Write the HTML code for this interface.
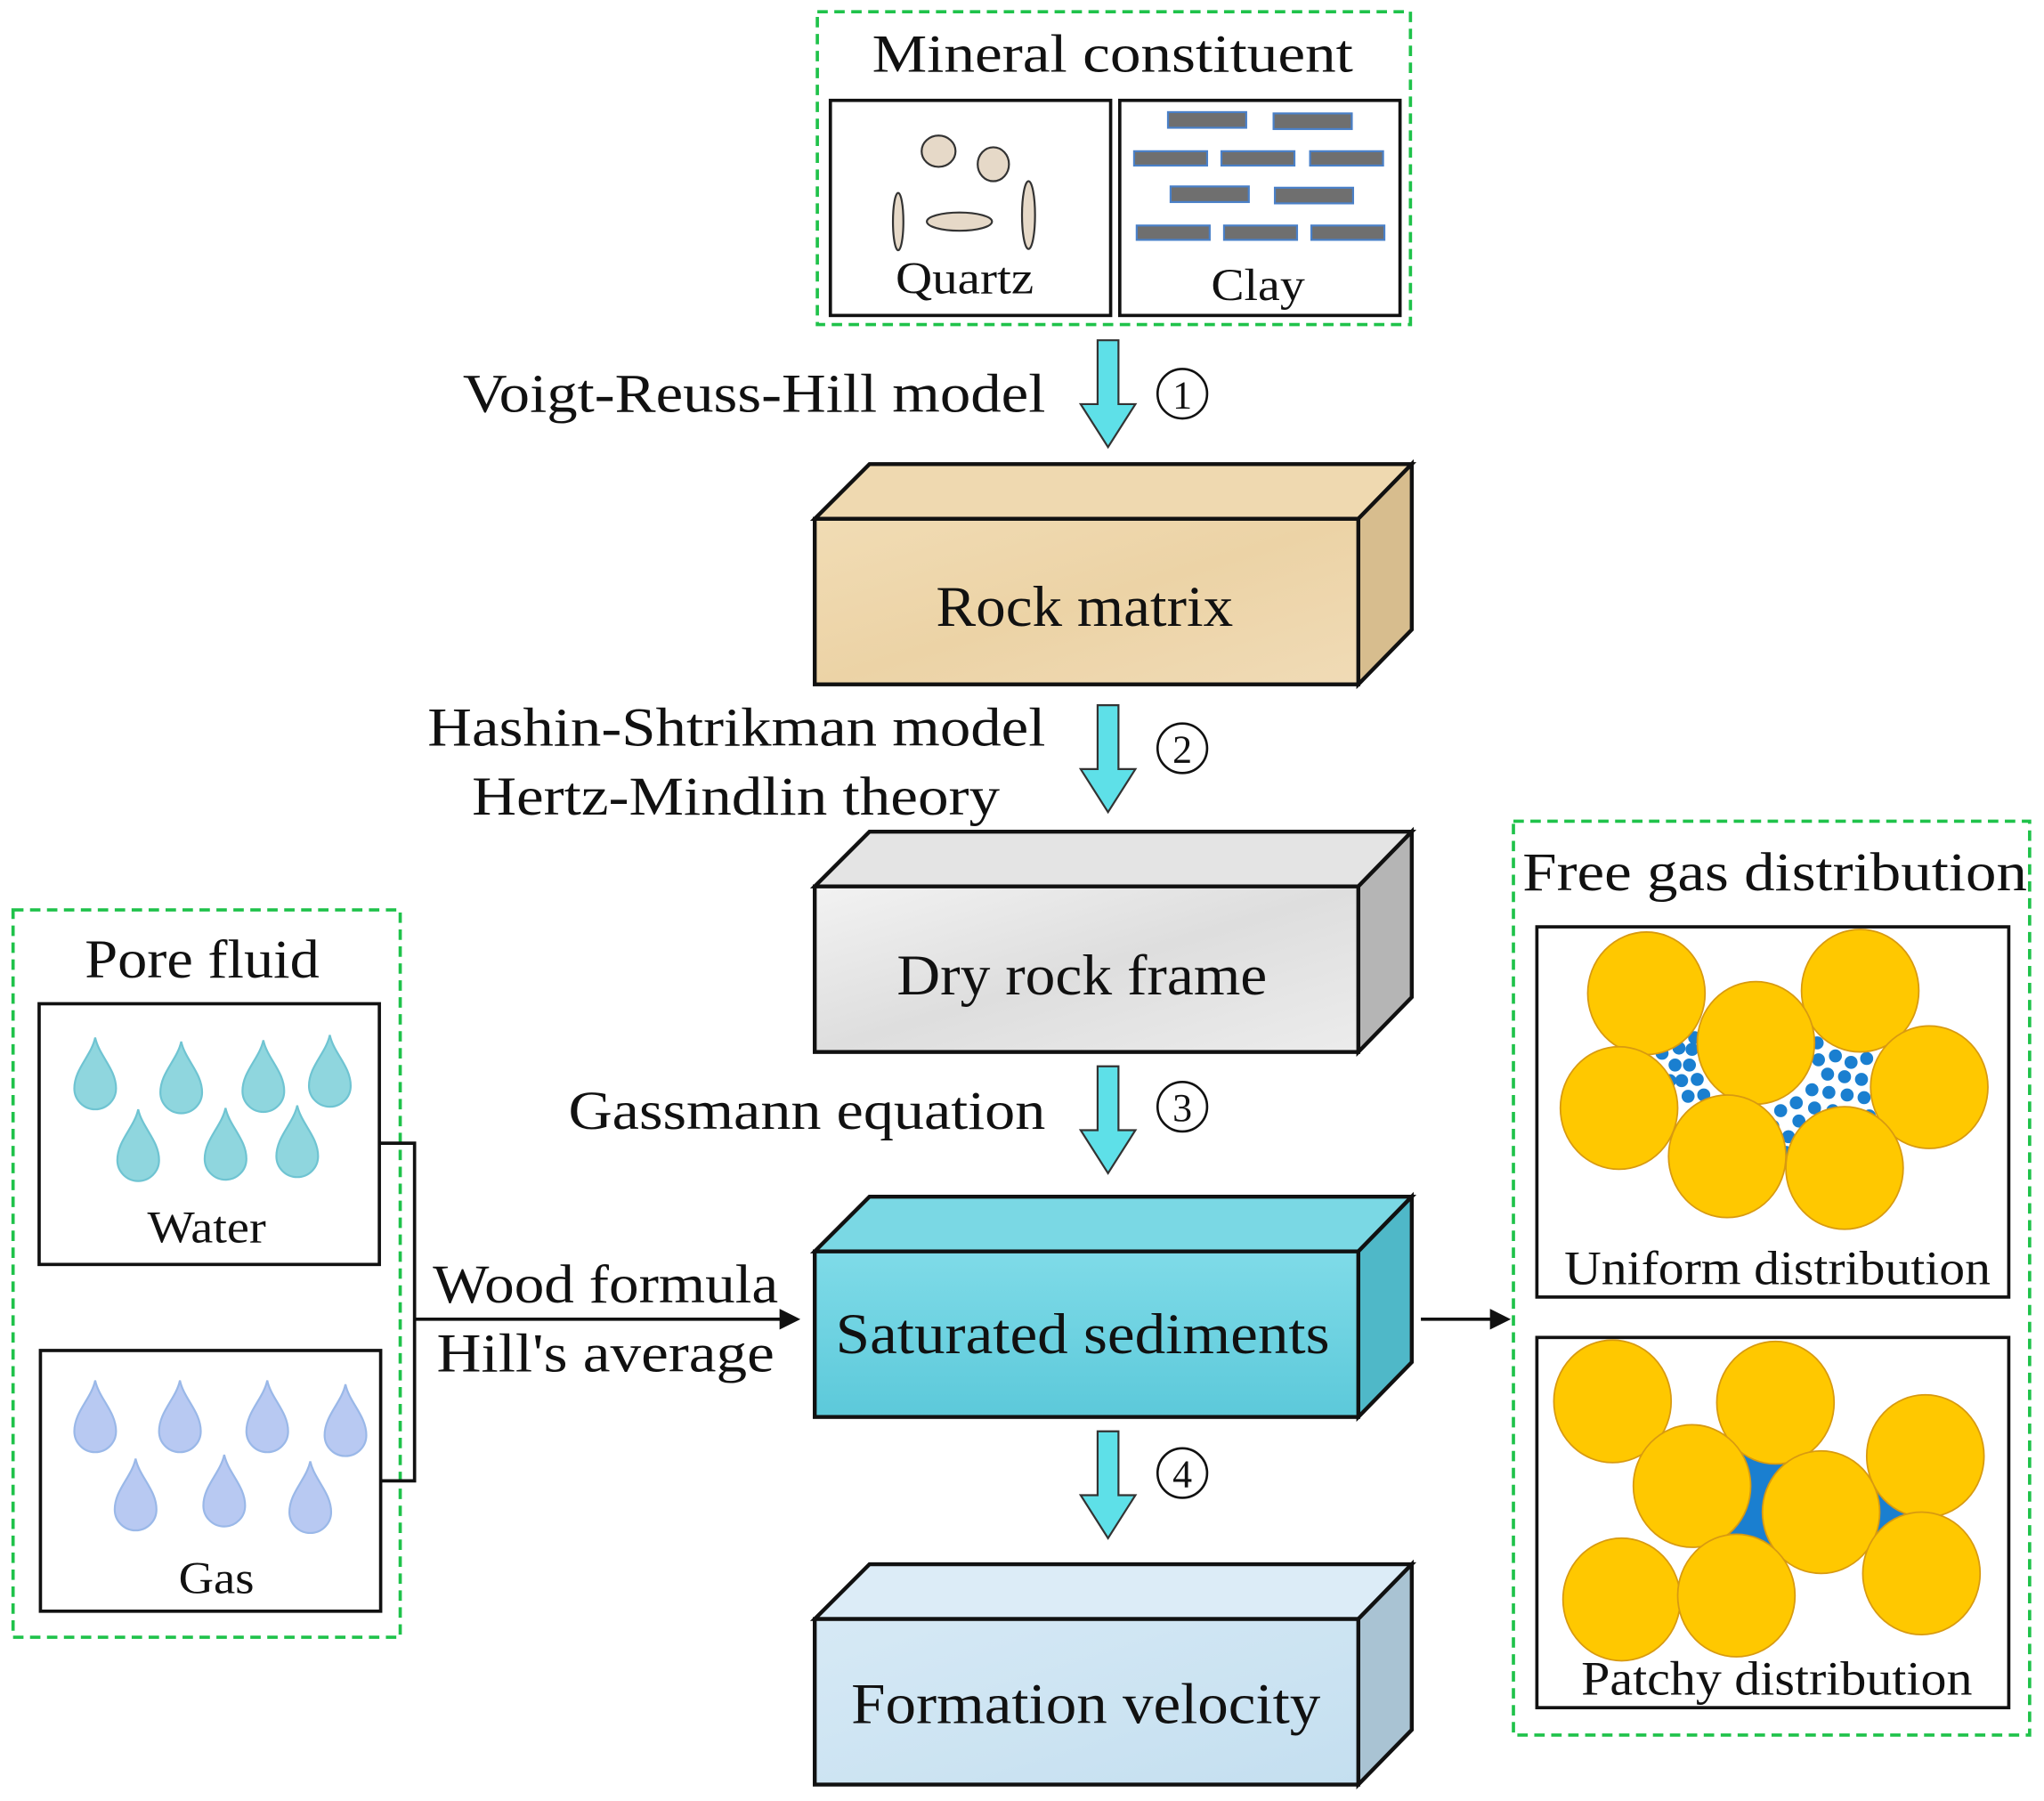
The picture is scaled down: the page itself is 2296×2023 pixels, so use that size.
<!DOCTYPE html>
<html><head><meta charset="utf-8"><style>
html,body{margin:0;padding:0;background:#fff;}
svg{display:block;}
text{font-family:"Liberation Serif","DejaVu Serif",serif;fill:#111;}
</style></head><body>
<svg width="2296" height="2023" viewBox="0 0 1568 1381.6" xmlns="http://www.w3.org/2000/svg">
<defs>
<g id="arrow"><polygon points="842,0 858,0 858,49 871,49 850,82 829,49 842,49" fill="#5ee0e8" stroke="#333" stroke-width="1.5"/></g>
<g id="drop"><path d="M0,-36 C3,-22 16,-12 16,3 A16,16 0 0 1 -16,3 C-16,-12 -3,-22 0,-36 Z"/></g>
<linearGradient id="gr" x1="0" y1="0" x2="1" y2="1"><stop offset="0" stop-color="#f1dcb4"/><stop offset="0.5" stop-color="#ecd3a6"/><stop offset="1" stop-color="#f0dbb6"/></linearGradient>
<linearGradient id="gd" x1="0" y1="0" x2="1" y2="1"><stop offset="0" stop-color="#f2f2f2"/><stop offset="0.5" stop-color="#dedede"/><stop offset="1" stop-color="#ececec"/></linearGradient>
<linearGradient id="gs" x1="0" y1="0" x2="0" y2="1"><stop offset="0" stop-color="#7fdbe8"/><stop offset="1" stop-color="#5cc9da"/></linearGradient>
<linearGradient id="gf" x1="0" y1="0" x2="1" y2="1"><stop offset="0" stop-color="#d6e9f5"/><stop offset="1" stop-color="#c4dff0"/></linearGradient>
</defs>

<rect x="627" y="9" width="455" height="240" fill="none" stroke="#1fc24a" stroke-width="2.5" stroke-dasharray="8,5"/>
<text x="669" y="55" font-size="41" textLength="369" lengthAdjust="spacingAndGlyphs">Mineral constituent</text>
<rect x="637" y="77" width="215" height="165" fill="#fff" stroke="#111" stroke-width="2.5"/>
<rect x="859" y="77" width="215" height="165" fill="#fff" stroke="#111" stroke-width="2.5"/>
<g fill="#e6d9c8" stroke="#333" stroke-width="1.5">
<ellipse cx="720" cy="116" rx="13" ry="12"/><ellipse cx="762" cy="126" rx="12" ry="13"/>
<ellipse cx="736" cy="170" rx="25" ry="7"/><ellipse cx="689" cy="170" rx="4" ry="22"/><ellipse cx="789" cy="165" rx="5" ry="26"/>
</g>
<text x="687" y="225" font-size="35" textLength="106" lengthAdjust="spacingAndGlyphs">Quartz</text>
<g fill="#6f6f6f" stroke="#4a80c8" stroke-width="1.5">
<rect x="896" y="86" width="60" height="12"/><rect x="977" y="87" width="60" height="12"/>
<rect x="870" y="116" width="56" height="11"/><rect x="937" y="116" width="56" height="11"/><rect x="1005" y="116" width="56" height="11"/>
<rect x="898" y="143" width="60" height="12"/><rect x="978" y="144" width="60" height="12"/>
<rect x="872" y="173" width="56" height="11"/><rect x="939" y="173" width="56" height="11"/><rect x="1006" y="173" width="56" height="11"/>
</g>
<text x="929" y="230" font-size="35" textLength="72" lengthAdjust="spacingAndGlyphs">Clay</text>

<use href="#arrow" transform="translate(0,261)"/>
<use href="#arrow" transform="translate(0,541)"/>
<use href="#arrow" transform="translate(0,818)"/>
<use href="#arrow" transform="translate(0,1098)"/>
<g font-size="42">
<text x="355" y="316" textLength="447" lengthAdjust="spacingAndGlyphs">Voigt-Reuss-Hill model</text>
<text x="328" y="572" textLength="474" lengthAdjust="spacingAndGlyphs">Hashin-Shtrikman model</text>
<text x="362" y="625" textLength="405" lengthAdjust="spacingAndGlyphs">Hertz-Mindlin theory</text>
<text x="436" y="866" textLength="366" lengthAdjust="spacingAndGlyphs">Gassmann equation</text>
</g>
<g fill="none" stroke="#111" stroke-width="1.8">
<circle cx="907" cy="302" r="19"/><circle cx="907" cy="574" r="19"/><circle cx="907" cy="849" r="19"/><circle cx="907" cy="1130" r="19"/>
</g>
<g font-size="30" text-anchor="middle">
<text x="907" y="313">1</text><text x="907" y="585">2</text><text x="907" y="860">3</text><text x="907" y="1141">4</text>
</g>

<g stroke="#111" stroke-width="3" stroke-linejoin="miter">
<polygon points="625,398 667,356 1083,356 1042,398" fill="#efd9b0"/>
<polygon points="1042,398 1083,356 1083,483 1042,525" fill="#d7bd8e"/>
<rect x="625" y="398" width="417" height="127" fill="url(#gr)"/>
<polygon points="625,680 667,638 1083,638 1042,680" fill="#e4e4e4"/>
<polygon points="1042,680 1083,638 1083,765 1042,807" fill="#b5b5b5"/>
<rect x="625" y="680" width="417" height="127" fill="url(#gd)"/>
<polygon points="625,960 667,918 1083,918 1042,960" fill="#7ad8e4"/>
<polygon points="1042,960 1083,918 1083,1045 1042,1087" fill="#4fb8c8"/>
<rect x="625" y="960" width="417" height="127" fill="url(#gs)"/>
<polygon points="625,1242 667,1200 1083,1200 1042,1242" fill="#dcecf7"/>
<polygon points="1042,1242 1083,1200 1083,1327 1042,1369" fill="#a9c3d3"/>
<rect x="625" y="1242" width="417" height="127" fill="url(#gf)"/>
</g>
<g font-size="44">
<text x="718" y="480" textLength="228" lengthAdjust="spacingAndGlyphs">Rock matrix</text>
<text x="688" y="763" textLength="284" lengthAdjust="spacingAndGlyphs">Dry rock frame</text>
<text x="641" y="1038" textLength="379" lengthAdjust="spacingAndGlyphs">Saturated sediments</text>
<text x="653" y="1322" textLength="360" lengthAdjust="spacingAndGlyphs">Formation velocity</text>
</g>

<rect x="10" y="698" width="297" height="558" fill="none" stroke="#1fc24a" stroke-width="2.5" stroke-dasharray="8,5"/>
<text x="65" y="750" font-size="42" textLength="180" lengthAdjust="spacingAndGlyphs">Pore fluid</text>
<rect x="30" y="770" width="261" height="200" fill="#fff" stroke="#111" stroke-width="2.5"/>
<rect x="31" y="1036" width="261" height="200" fill="#fff" stroke="#111" stroke-width="2.5"/>
<g fill="#8fd6de" stroke="#6fc4d2" stroke-width="1.5">
<use href="#drop" x="73" y="832"/><use href="#drop" x="139" y="835"/><use href="#drop" x="202" y="834"/><use href="#drop" x="253" y="830"/>
<use href="#drop" x="106" y="887"/><use href="#drop" x="173" y="886"/><use href="#drop" x="228" y="884"/>
</g>
<g fill="#b8c9f2" stroke="#9ab8e8" stroke-width="1.5">
<use href="#drop" x="73" y="1095"/><use href="#drop" x="138" y="1095"/><use href="#drop" x="205" y="1095"/><use href="#drop" x="265" y="1098"/>
<use href="#drop" x="104" y="1155"/><use href="#drop" x="172" y="1152"/><use href="#drop" x="238" y="1157"/>
</g>
<text x="113" y="953" font-size="35" textLength="91" lengthAdjust="spacingAndGlyphs">Water</text>
<text x="137" y="1222" font-size="35" textLength="58" lengthAdjust="spacingAndGlyphs">Gas</text>
<polyline points="291,877 318,877 318,1136 292,1136" fill="none" stroke="#111" stroke-width="2.5"/>
<line x1="318" y1="1012" x2="600" y2="1012" stroke="#111" stroke-width="2.5"/>
<polygon points="598,1004 614,1012 598,1020" fill="#111"/>
<text x="332" y="999" font-size="42" textLength="265" lengthAdjust="spacingAndGlyphs">Wood formula</text>
<text x="335" y="1052" font-size="42" textLength="259" lengthAdjust="spacingAndGlyphs">Hill's average</text>
<line x1="1090" y1="1012" x2="1145" y2="1012" stroke="#111" stroke-width="2.5"/>
<polygon points="1143,1004 1159,1012 1143,1020" fill="#111"/>

<rect x="1161" y="630" width="396" height="701" fill="none" stroke="#1fc24a" stroke-width="2.5" stroke-dasharray="8,5"/>
<text x="1168" y="683" font-size="42" textLength="387" lengthAdjust="spacingAndGlyphs">Free gas distribution</text>
<rect x="1179" y="711" width="362" height="284" fill="#fff" stroke="#111" stroke-width="2.5"/>
<rect x="1179" y="1026" width="362" height="284" fill="#fff" stroke="#111" stroke-width="2.5"/>
<g fill="#1a7fd0">
<circle cx="1275" cy="808" r="5"/><circle cx="1288" cy="804" r="5"/><circle cx="1298" cy="805" r="5"/><circle cx="1285" cy="817" r="5"/><circle cx="1296" cy="817" r="5"/><circle cx="1290" cy="829" r="5"/><circle cx="1302" cy="828" r="5"/><circle cx="1295" cy="841" r="5"/><circle cx="1307" cy="840" r="5"/><circle cx="1281" cy="829" r="5"/><circle cx="1300" cy="796" r="5"/><circle cx="1310" cy="852" r="5"/>
<circle cx="1394" cy="800" r="5"/><circle cx="1395" cy="813" r="5"/><circle cx="1408" cy="810" r="5"/><circle cx="1420" cy="815" r="5"/><circle cx="1432" cy="812" r="5"/><circle cx="1402" cy="824" r="5"/><circle cx="1415" cy="826" r="5"/><circle cx="1428" cy="828" r="5"/><circle cx="1390" cy="836" r="5"/><circle cx="1403" cy="838" r="5"/><circle cx="1417" cy="840" r="5"/><circle cx="1430" cy="842" r="5"/><circle cx="1378" cy="846" r="5"/><circle cx="1392" cy="850" r="5"/><circle cx="1406" cy="852" r="5"/><circle cx="1420" cy="854" r="5"/><circle cx="1366" cy="852" r="5"/><circle cx="1380" cy="860" r="5"/><circle cx="1360" cy="864" r="5"/><circle cx="1372" cy="872" r="5"/><circle cx="1385" cy="868" r="5"/><circle cx="1434" cy="856" r="5"/><circle cx="1370" cy="884" r="5"/><circle cx="1398" cy="862" r="5"/>
</g>
<g fill="#ffc800" stroke="#d89a10" stroke-width="1.2">
<ellipse cx="1263" cy="762" rx="45" ry="47"/><ellipse cx="1427" cy="760" rx="45" ry="47"/>
<ellipse cx="1242" cy="850" rx="45" ry="47"/><ellipse cx="1480" cy="834" rx="45" ry="47"/>
<ellipse cx="1347" cy="800" rx="45" ry="47"/>
<ellipse cx="1325" cy="887" rx="45" ry="47"/><ellipse cx="1415" cy="896" rx="45" ry="47"/>
</g>
<text x="1200" y="985" font-size="37" textLength="327" lengthAdjust="spacingAndGlyphs">Uniform distribution</text>
<polygon points="1298,1140 1362,1076 1397,1160 1477,1117 1474,1207 1397,1160 1332,1224 1298,1140 1244,1227" fill="#1a7fd0"/>
<g fill="#ffc800" stroke="#d89a10" stroke-width="1.2">
<ellipse cx="1237" cy="1075" rx="45" ry="47"/><ellipse cx="1362" cy="1076" rx="45" ry="47"/><ellipse cx="1477" cy="1117" rx="45" ry="47"/>
<ellipse cx="1298" cy="1140" rx="45" ry="47"/><ellipse cx="1397" cy="1160" rx="45" ry="47"/>
<ellipse cx="1244" cy="1227" rx="45" ry="47"/><ellipse cx="1332" cy="1224" rx="45" ry="47"/><ellipse cx="1474" cy="1207" rx="45" ry="47"/>
</g>
<text x="1213" y="1300" font-size="37" textLength="300" lengthAdjust="spacingAndGlyphs">Patchy distribution</text>
</svg>
</body></html>
